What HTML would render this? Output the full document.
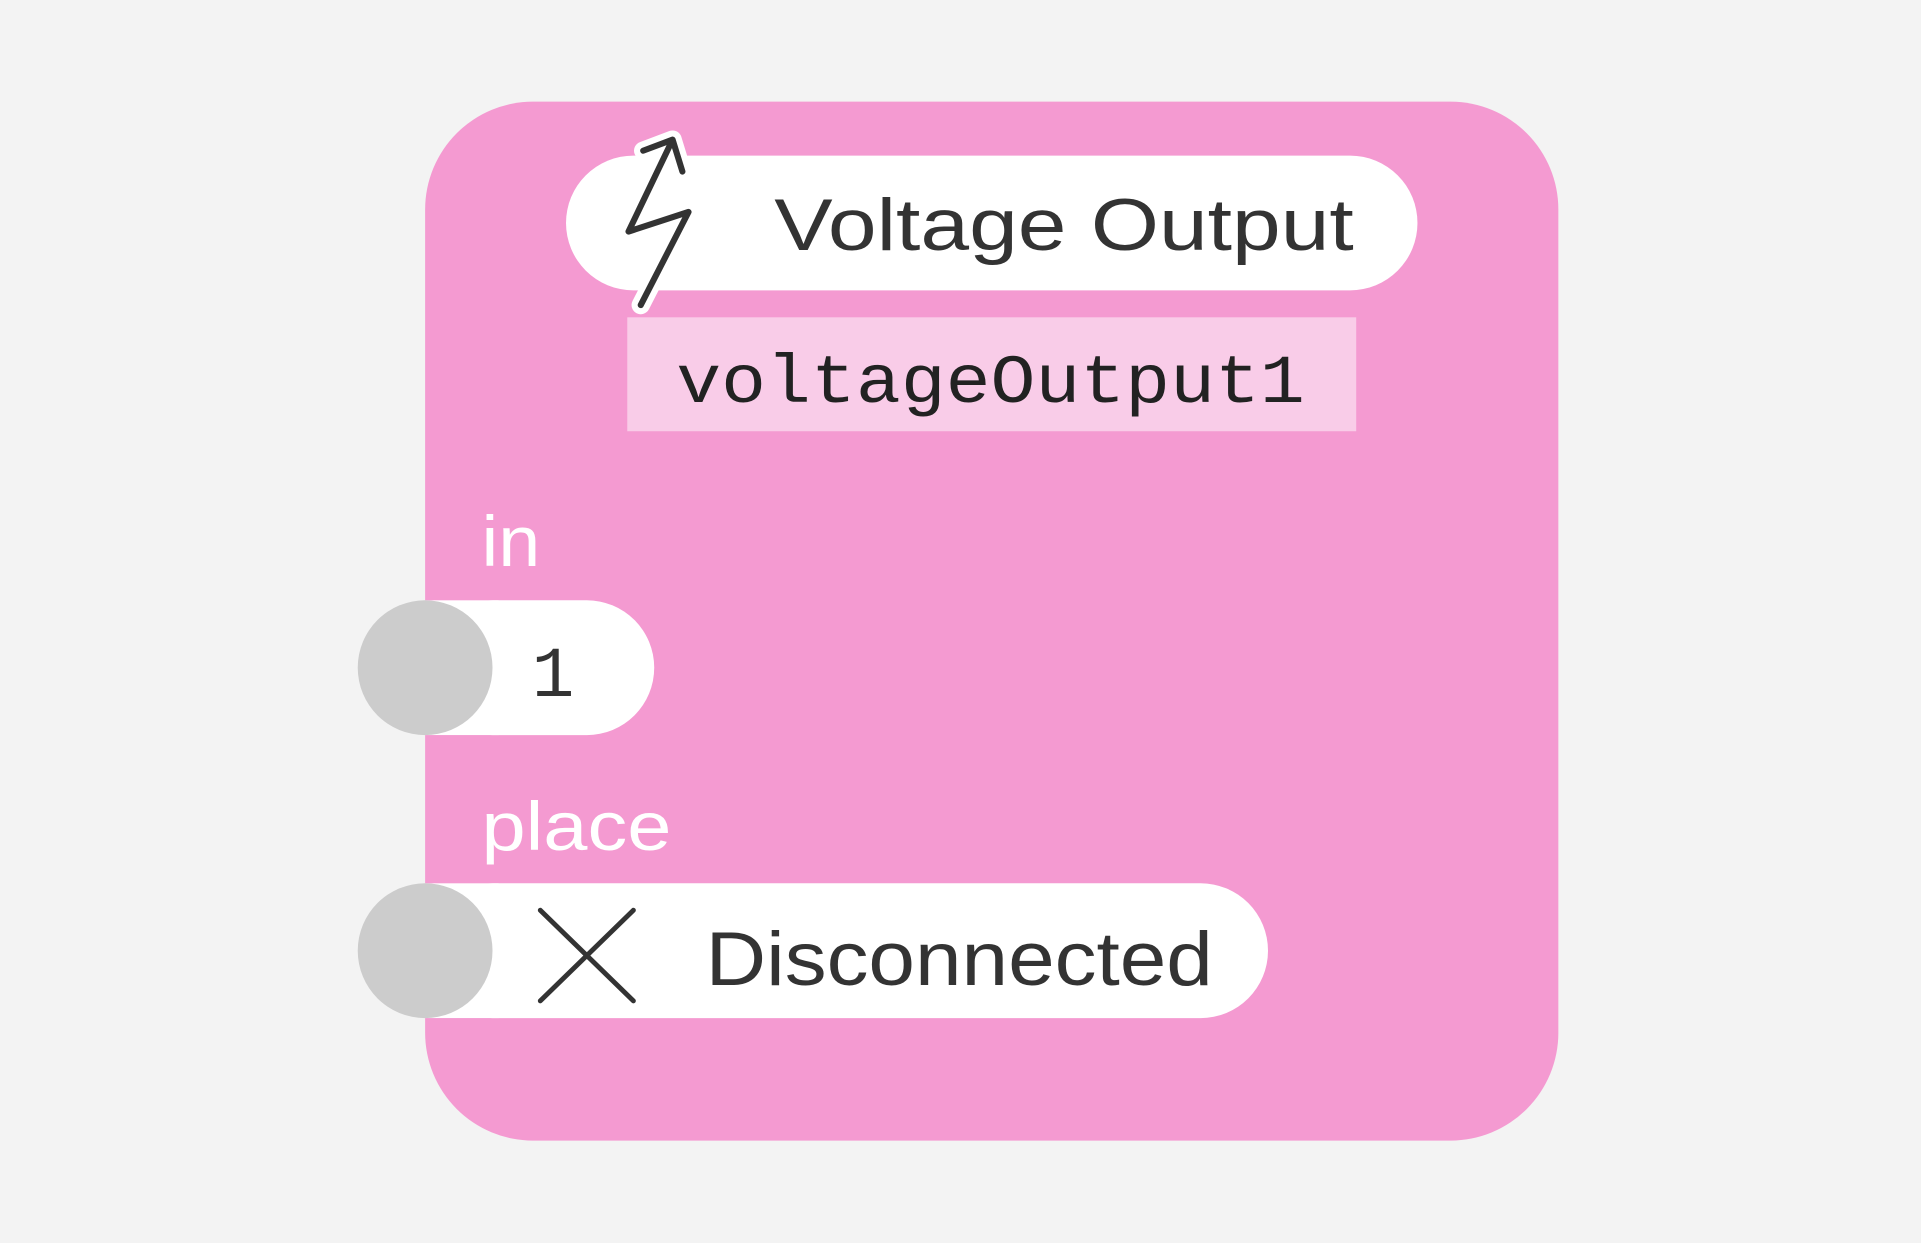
<!DOCTYPE html>
<html><head><style>html,body{margin:0;padding:0;background:#f3f3f3;}svg{display:block}</style></head>
<body>
<svg width="1921" height="1243" viewBox="0 0 1568 1014.6" xmlns="http://www.w3.org/2000/svg">
<rect width="1568" height="1015" fill="#f3f3f3"/>
<rect x="347" y="83" width="925" height="848" rx="88" fill="#f49ad1"/>
<rect x="462" y="127" width="695" height="110" rx="55" fill="#fff"/>
<path d="M525,123 L549,114 L557,140 M549,114 L513,189 L562,173 L523,249" fill="none" stroke="#fff" stroke-width="15" stroke-linecap="round" stroke-linejoin="round"/>
<path d="M525,123 L549,114 L557,140 M549,114 L513,189 L562,173 L523,249" fill="none" stroke="#333" stroke-width="5" stroke-linecap="round" stroke-linejoin="round"/>
<text x="632" y="204" font-family="Liberation Sans, sans-serif" font-size="60" fill="#333" textLength="473" lengthAdjust="spacingAndGlyphs">Voltage Output</text>
<rect x="512" y="259" width="595" height="93" fill="#f9cce8"/>
<text x="552" y="328" font-family="Liberation Mono, monospace" font-size="56" fill="#222" textLength="513" lengthAdjust="spacingAndGlyphs">voltageOutput1</text>
<text x="393" y="462" font-family="Liberation Sans, sans-serif" font-size="58" fill="#fff" textLength="48" lengthAdjust="spacingAndGlyphs">in</text>
<rect x="347" y="490" width="187" height="110" rx="55" fill="#fff"/>
<rect x="347" y="490" width="60" height="110" fill="#fff"/>
<circle cx="347" cy="545" r="55" fill="#cccccc"/>
<text x="434" y="568" font-family="Liberation Mono, monospace" font-size="58" fill="#333">1</text>
<text x="393" y="694" font-family="Liberation Sans, sans-serif" font-size="56" fill="#fff" textLength="155" lengthAdjust="spacingAndGlyphs">place</text>
<rect x="347" y="721" width="688" height="110" rx="55" fill="#fff"/>
<rect x="347" y="721" width="60" height="110" fill="#fff"/>
<circle cx="347" cy="776" r="55" fill="#cccccc"/>
<path d="M441,743 L517,817 M517,743 L441,817" stroke="#333" stroke-width="4" stroke-linecap="round"/>
<text x="576" y="804" font-family="Liberation Sans, sans-serif" font-size="62" fill="#333" textLength="414" lengthAdjust="spacingAndGlyphs">Disconnected</text>
</svg>
</body></html>
